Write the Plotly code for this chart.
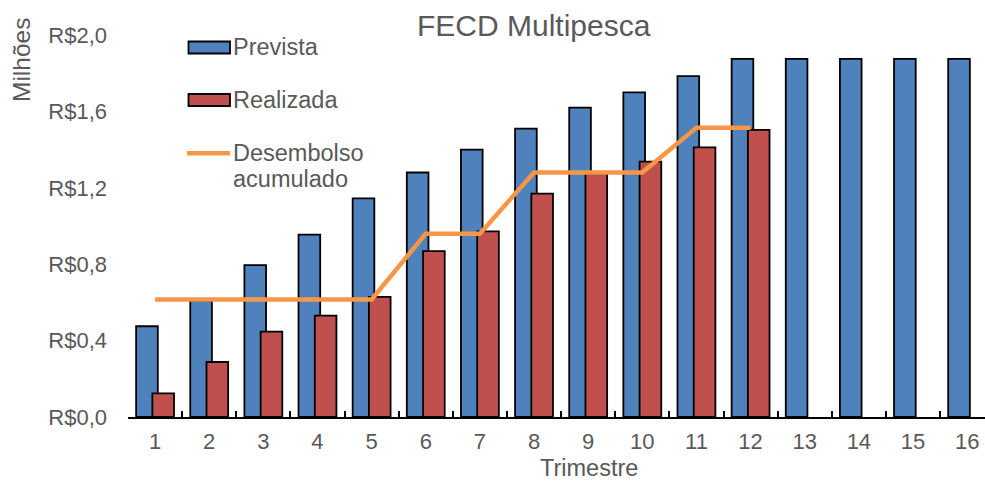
import plotly.graph_objects as go

# Data (values in R$ millions)
trimestres = [str(i) for i in range(1, 17)]
prevista = [0.475, 0.61, 0.795, 0.955, 1.145, 1.28, 1.40, 1.51,
            1.62, 1.70, 1.785, 1.875, 1.875, 1.875, 1.875, 1.875]
realizada = [0.124, 0.288, 0.447, 0.531, 0.629, 0.868, 0.972, 1.169,
             1.275, 1.337, 1.412, 1.503]
desembolso = [0.615, 0.615, 0.615, 0.615, 0.615, 0.96, 0.96, 1.28,
              1.28, 1.28, 1.515, 1.515]
y_ticks = [0, 0.4, 0.8, 1.2, 1.6, 2.0]
y_labels = ["R$0,0", "R$0,4", "R$0,8", "R$1,2", "R$1,6", "R$2,0"]

# Colours / fonts
BLUE = "#4F81BD"
RED = "#C0504D"
ORANGE = "#F79646"
GREY = "#595959"
FONT = "Liberation Sans, Arial, sans-serif"

W, H = 985, 482
ML, MR, MT, MB = 128, 0, 35, 65
PW, PH = W - ML - MR, H - MT - MB


def paper(x, y):
    # pixel position -> paper coordinates
    return (x - ML) / PW, (H - MB - y) / PH


fig = go.Figure()

fig.add_trace(go.Bar(x=trimestres, y=prevista, name="Prevista",
                     marker=dict(color=BLUE, line=dict(color="black", width=1.8)),
                     offset=-0.35, width=0.4))
fig.add_trace(go.Bar(x=trimestres[:len(realizada)], y=realizada, name="Realizada",
                     marker=dict(color=RED, line=dict(color="black", width=1.8)),
                     offset=-0.05, width=0.4))
fig.add_trace(go.Scatter(x=trimestres[:len(desembolso)], y=desembolso,
                         name="Desembolso acumulado", mode="lines",
                         line=dict(color=ORANGE, width=4.5)))

# Manual legend (Excel style wide patches)
shapes = []
annotations = []
for name, color, ypx in [("Prevista", BLUE, 47.5), ("Realizada", RED, 100)]:
    x0, y0 = paper(188.5, ypx - 6)
    x1, y1 = paper(230, ypx + 6)
    shapes.append(dict(type="rect", xref="paper", yref="paper",
                       x0=x0, x1=x1, y0=y1, y1=y0, fillcolor=color,
                       line=dict(color="black", width=1.8), layer="above"))
    tx, ty = paper(231, ypx)
    annotations.append(dict(text=name, x=tx, y=ty, xref="paper", yref="paper",
                            xanchor="left", yanchor="middle", showarrow=False,
                            font=dict(size=23.5, color=GREY, family=FONT)))

lx0, ly = paper(187, 153.3)
lx1, _ = paper(230, 153.3)
shapes.append(dict(type="line", xref="paper", yref="paper", x0=lx0, x1=lx1,
                   y0=ly, y1=ly, line=dict(color=ORANGE, width=4.5), layer="above"))
for txt, ypx in [("Desembolso", 153), ("acumulado", 179)]:
    tx, ty = paper(231, ypx)
    annotations.append(dict(text=txt, x=tx, y=ty, xref="paper", yref="paper",
                            xanchor="left", yanchor="middle", showarrow=False,
                            font=dict(size=23.5, color=GREY, family=FONT)))

# Title and axis titles
tx, ty = paper(534, 25.5)
annotations.append(dict(text="FECD Multipesca", x=tx, y=ty, xref="paper", yref="paper",
                        xanchor="center", yanchor="middle", showarrow=False,
                        font=dict(size=30, color=GREY, family=FONT)))
tx, ty = paper(589, 482)
annotations.append(dict(text="Trimestre", x=tx, y=ty, xref="paper", yref="paper",
                        xanchor="center", yanchor="bottom", showarrow=False,
                        borderpad=0,
                        font=dict(size=23.5, color=GREY, family=FONT)))
tx, ty = paper(21, 60)
annotations.append(dict(text="Milhões", x=tx, y=ty, xref="paper", yref="paper",
                        xanchor="center", yanchor="middle", showarrow=False,
                        textangle=-90,
                        font=dict(size=24.5, color=GREY, family=FONT)))

fig.update_layout(
    width=W, height=H,
    margin=dict(l=ML, r=MR, t=MT, b=MB),
    barmode="overlay",
    showlegend=False,
    plot_bgcolor="white", paper_bgcolor="white",
    font=dict(family=FONT, size=22, color=GREY),
    shapes=shapes,
    annotations=annotations,
)
fig.update_xaxes(type="category", range=[-0.5, 15.33],
                 showline=True, linecolor="black", linewidth=1.5,
                 ticks="inside", tickson="boundaries", ticklen=6,
                 tickcolor="black", tickwidth=1.5,
                 showgrid=False, zeroline=False,
                 tickfont=dict(size=22, color=GREY), ticklabelstandoff=4)
fig.update_yaxes(range=[0, 2.0], tickvals=y_ticks, ticktext=y_labels,
                 showline=False, showgrid=False, zeroline=False, ticks="",
                 tickfont=dict(size=22, color=GREY), ticklabelstandoff=20)

# remove the default page margin so the figure sits at the window's corner
fig.write_html("out.html", config={"displayModeBar": False},
               post_script="document.body.style.margin='0';")
